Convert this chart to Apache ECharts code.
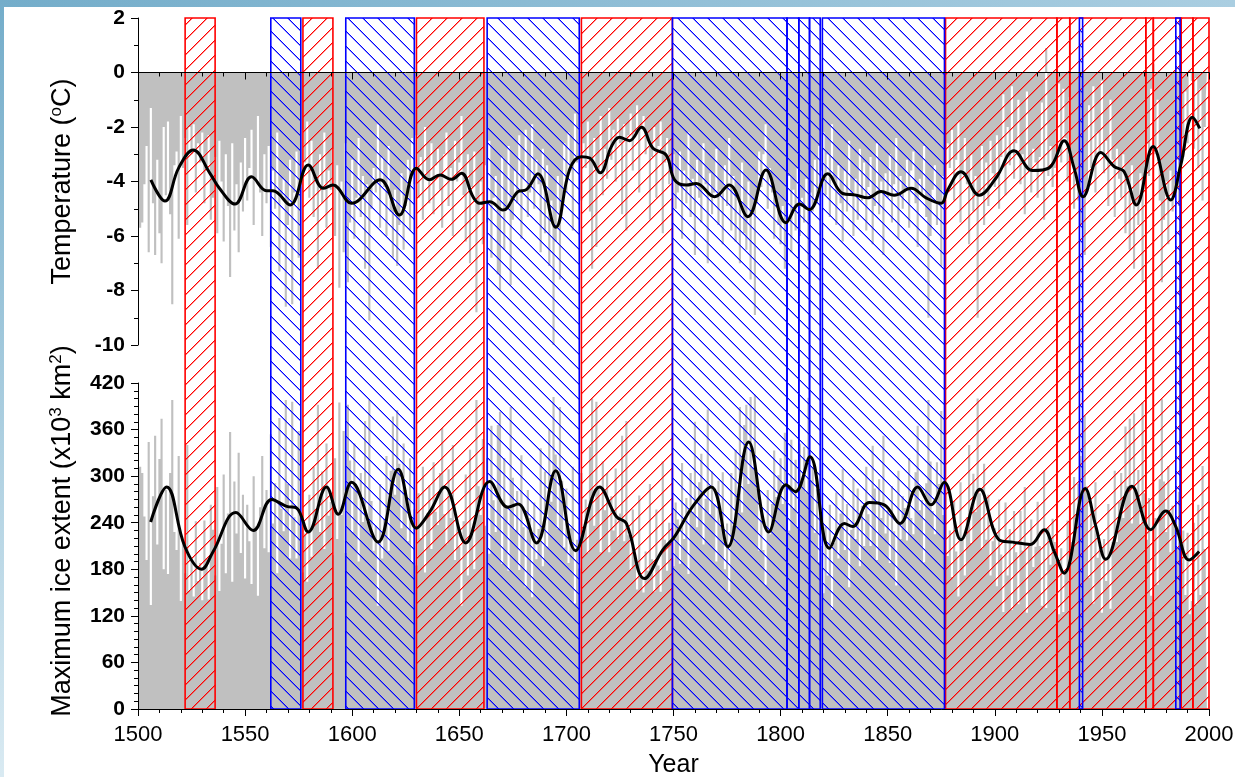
<!DOCTYPE html>
<html>
<head>
<meta charset="utf-8">
<title>Temperature and maximum ice extent, 1500-2000</title>
<script src="https://cdn.jsdelivr.net/npm/echarts@6/dist/echarts.min.js"></script>
<style>
  html, body { margin: 0; padding: 0; background: #fff; }
  #frameTop { position: absolute; left: 0; top: 0; width: 1235px; height: 7px;
    background: linear-gradient(to right, #74adca, #aacee1); }
  #frameLeft { position: absolute; left: 0; top: 0; width: 4px; height: 777px;
    background: linear-gradient(to bottom, #74adca, #d9eaf2); }
  #chart { position: absolute; left: 0; top: 0; width: 1235px; height: 777px; }
</style>
</head>
<body>
<div id="frameTop"></div>
<div id="frameLeft"></div>
<div id="chart"></div>
<script>
// ---- data -----------------------------------------------------------------
const firstYear = 1500;

// annual temperature (°C), 1500-1999
const tempValues = [
  -3.9,-5.7,-5.5,-4.1,-2.7,-6.6,-1.3,-4.8,-6.7,-3.2,
  -5.9,-7.0,-2.0,-4.5,-1.8,-5.2,-8.5,-3.4,-2.9,-6.1,
  -1.6,-3.5,-2.4,-5.6,-2.0,-3.0,-1.9,-4.4,-2.6,-3.3,
  -2.2,-4.8,-3.6,-2.3,-5.4,-4.6,-3.1,-5.9,-2.5,-4.0,
  -6.2,-3.0,-4.9,-7.5,-2.6,-5.8,-4.1,-6.6,-3.3,-5.1,
  -2.4,-4.7,-3.5,-2.1,-5.6,-3.9,-1.6,-4.4,-6.0,-3.0,
  -4.8,-2.7,-6.4,-3.6,-5.0,-2.2,-7.3,-4.5,-3.9,-8.6,
  -5.6,-3.2,-8.5,-4.4,-2.9,-6.8,-4.0,-2.1,-3.3,-1.8,
  -4.6,-2.5,-5.3,-3.9,-7.2,-3.0,-4.8,-2.2,-5.7,-3.6,
  -4.3,-2.8,-6.0,-3.4,-7.9,-4.0,-6.6,-2.6,-7.7,-5.5,
  -3.2,-6.1,-4.6,-2.4,-5.3,-3.8,-7.2,-4.1,-9.1,-5.0,
  -3.5,-4.4,-1.9,-5.7,-3.1,-4.2,-6.0,-2.7,-5.1,-6.8,
  -4.3,-7.1,-5.6,-3.7,-6.5,-4.9,-3.2,-5.8,-2.4,-4.1,
  -2.3,-4.6,-3.1,-5.4,-2.0,-3.9,-4.8,-2.6,-5.2,-3.4,
  -2.8,-4.3,-5.7,-3.0,-2.2,-4.9,-3.5,-6.0,-2.5,-4.0,
  -3.3,-1.6,-4.5,-6.2,-3.0,-7.0,-4.2,-2.9,-8.8,-5.1,
  -4.0,-6.3,-3.4,-5.5,-2.5,-6.8,-4.6,-3.8,-7.4,-8.0,
  -3.1,-6.5,-4.9,-2.7,-7.8,-5.4,-3.6,-4.8,-2.3,-6.1,
  -3.9,-2.1,-5.3,-4.4,-1.9,-5.0,-3.2,-4.1,-6.6,-2.8,
  -5.9,-3.4,-7.1,-4.7,-10.0,-6.2,-3.8,-7.6,-5.0,-2.6,
  -4.4,-2.2,-3.6,-5.8,-1.5,-3.3,-2.0,-4.7,-2.6,-3.5,
  -1.8,-5.1,-7.2,-2.4,-6.4,-3.7,-1.6,-4.5,-2.8,-3.9,
  -1.3,-3.2,-2.1,-4.0,-1.7,-2.6,-5.2,-1.9,-5.8,-2.3,
  -1.5,-3.6,-2.2,-1.2,-4.4,-2.0,-1.6,-3.0,-2.5,-5.4,
  -3.1,-2.0,-4.6,-2.7,-1.8,-5.9,-3.3,-2.4,-4.1,-3.6,
  -3.0,-5.0,-4.4,-2.9,-6.1,-3.6,-4.8,-2.2,-5.3,-3.9,
  -6.7,-3.2,-4.6,-5.5,-2.6,-4.1,-7.0,-3.7,-5.2,-4.4,
  -2.8,-5.6,-4.3,-6.3,-3.4,-4.9,-2.4,-5.8,-3.8,-6.2,
  -4.5,-7.0,-3.3,-5.9,-6.5,-4.0,-7.6,-5.1,-8.9,-4.8,
  -2.9,-4.2,-3.0,-1.9,-5.0,-3.5,-4.4,-6.1,-4.7,-5.6,
  -6.3,-4.9,-7.2,-5.4,-3.8,-6.6,-4.3,-5.8,-3.5,-6.0,
  -4.6,-5.5,-3.9,-6.9,-4.4,-5.1,-3.2,-4.8,-2.7,-3.6,
  -2.2,-4.5,-3.0,-5.3,-1.9,-4.0,-5.6,-3.4,-4.8,-6.2,
  -3.6,-5.1,-2.5,-4.4,-6.0,-3.9,-5.4,-2.8,-4.7,-3.3,
  -5.8,-4.2,-3.1,-6.3,-4.9,-2.6,-5.2,-4.0,-6.7,-3.7,
  -4.6,-3.0,-5.5,-4.1,-2.4,-6.1,-3.8,-5.0,-4.4,-3.2,
  -5.7,-3.6,-2.9,-4.8,-6.4,-3.9,-4.5,-2.7,-5.3,-9.0,
  -6.0,-4.3,-3.4,-5.6,-4.8,-7.1,-3.8,-4.6,-2.6,-3.5,
  -2.1,-4.7,-3.2,-1.8,-5.5,-3.6,-2.4,-4.1,-6.3,-3.0,
  -5.1,-3.8,-9.0,-4.4,-2.7,-5.6,-3.3,-4.9,-2.5,-3.7,
  -4.2,-2.3,-5.0,-3.1,-0.8,-4.5,-2.0,-3.4,-0.5,-3.9,
  -2.6,-1.0,-4.1,-3.0,-5.2,-0.7,-3.6,-4.4,-2.8,-3.3,
  -4.6,-3.1,-1.1,-5.4,0.9,-3.8,-2.7,-4.2,-3.5,-0.8,
  -0.4,-3.3,-0.6,-2.4,-4.0,-0.9,-3.1,-5.0,-3.6,-4.7,
  -5.6,-3.9,-6.7,-4.3,-1.2,-3.5,-0.5,-4.4,-2.2,-3.0,
  -0.3,-3.7,-2.5,-4.9,-1.0,-3.2,-5.3,-2.8,-3.9,-4.6,
  -3.0,-5.9,-4.1,-6.5,-3.4,-7.2,-4.8,-5.6,-3.7,-7.7,
  -4.3,-2.6,-3.8,-0.6,0.3,-3.0,-1.0,-4.7,-7.7,-5.4,
  -4.0,-6.3,-3.6,-5.1,-4.4,-3.2,-4.9,-2.4,-3.1,-0.7,
  -2.6,0.1,-0.3,-2.8,-0.2,-3.5,-0.6,-4.7,-2.0,-0.9
];

// annual maximum ice extent (x10^3 km^2), 1500-1999
const iceValues = [
  240,312,304,248,192,344,134,274,352,212,
  322,374,180,282,174,304,398,228,205,326,
  139,217,175,340,152,191,145,242,165,188,
  140,243,194,141,263,231,172,286,152,213,
  302,175,252,357,164,293,226,330,201,276,
  168,263,216,161,300,235,146,260,326,207,
  282,202,354,239,291,175,375,258,229,398,
  290,194,396,247,194,358,250,176,226,164,
  276,196,312,258,392,228,306,206,342,249,
  267,198,323,219,395,250,358,201,392,320,
  228,342,287,190,304,241,371,241,398,268,
  204,236,133,290,194,245,326,204,307,377,
  276,385,316,233,342,282,216,323,188,257,
  185,278,220,312,176,252,288,206,318,254,
  237,304,362,251,212,309,246,340,192,244,
  209,133,242,302,172,334,226,180,398,287,
  250,348,236,323,200,365,269,228,366,383,
  187,323,262,178,389,298,230,281,179,327,
  234,157,282,246,144,266,193,232,336,184,
  306,209,360,267,402,328,232,389,294,208,
  284,188,233,312,136,218,181,304,230,270,
  201,338,400,236,396,287,202,319,256,304,
  202,274,230,310,219,252,352,216,371,224,
  179,257,198,154,275,172,150,203,178,290,
  193,151,257,185,151,319,218,178,240,212,
  184,266,244,187,317,219,272,174,304,254,
  370,234,292,329,212,271,386,251,306,264,
  190,294,236,305,180,239,151,304,236,334,
  277,389,253,366,392,290,402,311,405,284,
  204,253,205,160,282,225,264,333,273,301,
  323,264,356,288,230,347,258,321,234,342,
  294,338,279,401,295,311,227,283,189,210,
  149,235,172,263,128,214,279,194,252,309,
  205,264,157,231,297,219,284,184,262,210,
  312,251,210,339,284,192,296,246,352,226,
  256,188,287,229,159,307,219,274,259,217,
  323,246,225,305,365,256,269,189,291,398,
  319,255,225,318,290,384,250,280,197,230,
  170,268,203,145,292,218,172,247,340,214,
  303,254,400,278,206,316,218,276,172,216,
  233,158,270,199,125,266,172,232,128,255,
  202,135,255,204,286,124,212,244,183,209,
  267,210,133,307,130,234,186,245,215,126,
  122,207,125,174,243,127,215,299,246,290,
  326,260,378,287,169,258,136,292,195,212,
  124,219,165,264,129,215,307,215,267,304,
  246,364,287,374,239,381,278,308,238,395,
  278,218,272,146,125,246,160,296,399,293,
  228,313,202,262,238,206,280,188,230,147,
  227,122,139,240,134,263,147,313,206,164
];

// smoothed temperature curve [year, °C]
const tempCurve = [
  [1506,-3.94],[1512.6,-4.72],[1519,-3.5],[1525.8,-2.84],[1533.6,-3.7],[1538,-4.25],
  [1545.3,-4.83],[1553,-3.83],[1560,-4.34],[1563,-4.34],[1571,-4.86],[1579.5,-3.39],
  [1586.5,-4.25],[1591,-4.13],[1599.7,-4.8],[1613,-3.94],[1622,-5.23],[1630,-3.51],
  [1636,-3.94],[1641,-3.76],[1646.3,-3.92],[1651,-3.7],[1656.4,-4.56],[1659.5,-4.8],
  [1664.2,-4.74],[1670.4,-5.05],[1677.4,-4.37],[1681.3,-4.3],[1686.7,-3.72],[1695,-5.68],
  [1701.5,-3.56],[1707,-3.09],[1710.9,-3.14],[1715.8,-3.68],[1721,-2.72],[1724.8,-2.38],
  [1729.5,-2.5],[1735,-2.01],[1740.4,-2.78],[1746.6,-3.03],[1750.5,-3.94],[1756,-4.13],
  [1760.6,-4.07],[1769.2,-4.56],[1776,-4.13],[1784.7,-5.29],[1793.2,-3.58],[1802.5,-5.51],
  [1808.8,-4.83],[1813.4,-5.03],[1822,-3.72],[1829,-4.44],[1835.2,-4.5],[1840.6,-4.6],
  [1846.9,-4.37],[1853,-4.5],[1860.9,-4.25],[1867.9,-4.6],[1874.9,-4.8],[1878,-4.31],
  [1884.2,-3.64],[1892.7,-4.5],[1900.5,-3.88],[1909,-2.87],[1917.6,-3.6],[1925.4,-3.5],
  [1932.4,-2.5],[1937,-3.5],[1941.2,-4.56],[1949.5,-2.94],[1955.7,-3.45],[1960.4,-3.64],
  [1966.1,-4.86],[1973.9,-2.72],[1982.1,-4.68],[1986.8,-3.4],[1992.3,-1.64],[1995.7,-2.05]
];

// smoothed ice-extent curve [year, x10^3 km^2]
const iceCurve = [
  [1505.9,241],[1513.4,286],[1521.9,209],[1529.7,180],[1535.1,203],[1545.7,253],
  [1553.8,230],[1562.4,270],[1569.4,261],[1574,259],[1579.5,228],[1588,286],
  [1593.5,251],[1599.7,292],[1612.1,215],[1621.5,309],[1630,233],[1636.2,254],
  [1643.2,286],[1653,214],[1664.2,293],[1672.7,260],[1677.4,264],[1686,214],
  [1695,307],[1704.3,204],[1715.5,286],[1723.3,248],[1728,239],[1736.5,168],
  [1745,205],[1750.5,222],[1759,261],[1767.6,286],[1775.4,209],[1785.1,344],
  [1794.5,228],[1802.5,289],[1806.9,280],[1813.7,325],[1822.8,207],[1829.8,239],
  [1833.6,235],[1841.4,266],[1848.4,263],[1855.7,239],[1864,286],[1870.2,263],
  [1876.4,292],[1884.2,218],[1893,283],[1902,218],[1908.3,215],[1916.5,212],
  [1923,231],[1927.7,203],[1932.4,175],[1942.2,284],[1947.2,235],[1951.8,193],
  [1964,287],[1972.8,231],[1979.8,255],[1984.5,235],[1990.7,192],[1995.4,203]
];

// warm (red) and cold (blue) periods [start, end]
const warmPeriods = [
  [1522,1536],[1577,1591],[1630,1661.5],[1707,1749.5],[1877,1929],[1929,1935],
  [1935,1970.5],[1970.5,1974],[1974,1987],[1987,1992.5],[1992.5,2000]
];
const coldPeriods = [
  [1562,1576],[1597,1629],[1663,1706],[1749.5,1803],[1803,1808.5],[1808.5,1813.5],
  [1813.5,1818.5],[1819.5,1876.5],[1939.5,1941],[1984.5,1986.5]
];

const tempTicks = { min: -10, max: 2, step: 2 };
const iceTicks = { min: 0, max: 420, step: 60 };
const yearTicks = { min: 1500, max: 2000, step: 50 };

// ---- helpers ----------------------------------------------------------------
const FONT = '"Liberation Sans", Arial, Helvetica, sans-serif';
const RED = '#ff0000';
const BLUE = '#0000ff';
const BAR_GREY = '#c0c0c0';

// diagonal hatch tile: dir = 1 for "/", -1 for "\"
function hatchTile(color, dir) {
  const n = 15;
  const c = document.createElement('canvas');
  c.width = n; c.height = n;
  const g = c.getContext('2d');
  g.fillStyle = color;
  for (let i = 0; i < n; i++) {
    const y = dir > 0 ? n - 1 - i : i;
    g.globalAlpha = 1;
    g.fillRect(i, y, 1, 1);
    g.globalAlpha = 0.45;
    g.fillRect(i, (y + 1) % n, 1, 1);
  }
  return c;
}
const redTile = hatchTile(RED, 1);
const blueTile = hatchTile(BLUE, -1);

function periodRenderer(color, tile) {
  return function (params, api) {
    const p0 = api.coord([api.value(0), 1]);
    const p1 = api.coord([api.value(1), 0]);
    return {
      type: 'rect',
      shape: { x: p0[0], y: p0[1], width: p1[0] - p0[0], height: p1[1] - p0[1] },
      style: { fill: { image: tile, repeat: 'repeat' }, stroke: color, lineWidth: 1.6 }
    };
  };
}

const tempBars = tempValues.map((v, i) => [firstYear + i, v]);
const iceBars = iceValues.map((v, i) => [firstYear + i, v]);

// annual values as contiguous one-year columns: a stepped area filled down to zero
function annualColumns(name, axisIndex, data) {
  return {
    name, type: 'line', xAxisIndex: axisIndex, yAxisIndex: axisIndex,
    data, step: 'middle', symbol: 'none', showSymbol: false, silent: true, z: 1,
    lineStyle: { width: 0, color: BAR_GREY },
    areaStyle: { color: BAR_GREY, opacity: 1, origin: 0 }
  };
}

const blackText = { color: '#000', fontFamily: FONT };

function yearAxis(gridIndex, withLabels) {
  return {
    type: 'value', gridIndex,
    min: yearTicks.min, max: yearTicks.max, interval: yearTicks.step,
    z: 4,
    axisLine: { show: true, onZero: true, lineStyle: { color: '#000', width: 1 } },
    axisTick: { show: true, inside: false, length: 7, lineStyle: { color: '#000', width: 1 } },
    minorTick: { show: true, splitNumber: 5, length: 4, lineStyle: { color: '#000', width: 1 } },
    splitLine: { show: false }, minorSplitLine: { show: false },
    axisLabel: withLabels
      ? Object.assign({ show: true, fontSize: 22, margin: 15, hideOverlap: false,
          formatter: (v) => String(v) }, blackText)
      : { show: false }
  };
}

function valueAxis(gridIndex, ticks, minorSplit, name, nameStyle) {
  return {
    type: 'value', gridIndex,
    min: ticks.min, max: ticks.max, interval: ticks.step,
    z: 4,
    axisLine: { show: true, onZero: false, lineStyle: { color: '#000', width: 1 } },
    axisTick: { show: true, inside: false, length: 7, lineStyle: { color: '#000', width: 1 } },
    minorTick: { show: true, splitNumber: minorSplit, length: 4, lineStyle: { color: '#000', width: 1 } },
    splitLine: { show: false }, minorSplitLine: { show: false },
    axisLabel: Object.assign({ fontSize: 21, fontWeight: 'bold', margin: 13, hideOverlap: false,
      formatter: (v) => String(v) }, blackText),
    name: name,
    nameLocation: 'middle',
    nameRotate: 90,
    nameGap: 60,
    nameMoveOverlap: false,
    nameTextStyle: nameStyle
  };
}

const supRich = { sup: { fontSize: 17, lineHeight: 17, verticalAlign: 'top', color: '#000', fontFamily: FONT } };

const option = {
  animation: false,
  backgroundColor: 'transparent',
  textStyle: { fontFamily: FONT },
  grid: [
    { left: 138, top: 18, width: 1071, height: 327, containLabel: false, outerBoundsMode: 'none' },
    { left: 138, top: 383, width: 1071, height: 326, containLabel: false, outerBoundsMode: 'none' },
    { left: 138, top: 18, width: 1071, height: 691, containLabel: false, outerBoundsMode: 'none' }
  ],
  xAxis: [
    yearAxis(0, false),
    Object.assign(yearAxis(1, true), {
      name: 'Year', nameLocation: 'middle', nameGap: 44, nameMoveOverlap: false,
      nameTextStyle: Object.assign({ fontSize: 25 }, blackText)
    }),
    { type: 'value', gridIndex: 2, min: yearTicks.min, max: yearTicks.max, show: false }
  ],
  yAxis: [
    valueAxis(0, tempTicks, 2, 'Temperature ({sup|o}C)',
      Object.assign({ fontSize: 27, lineHeight: 30, rich: supRich }, blackText)),
    valueAxis(1, iceTicks, 6, 'Maximum ice extent (x10{sup|3} km{sup|2})',
      Object.assign({ fontSize: 27, lineHeight: 30, rich: supRich, padding: [0, 0, 0, 30] }, blackText)),
    { type: 'value', gridIndex: 2, min: 0, max: 1, show: false }
  ],
  series: [
    annualColumns('Temperature', 0, tempBars),
    annualColumns('Ice extent', 1, iceBars),
    {
      name: 'Warm periods', type: 'custom', xAxisIndex: 2, yAxisIndex: 2,
      data: warmPeriods, encode: { x: [0, 1] }, silent: true, z: 3,
      renderItem: periodRenderer(RED, redTile)
    },
    {
      name: 'Cold periods', type: 'custom', xAxisIndex: 2, yAxisIndex: 2,
      data: coldPeriods, encode: { x: [0, 1] }, silent: true, z: 3,
      renderItem: periodRenderer(BLUE, blueTile)
    },
    {
      name: 'Temperature (smoothed)', type: 'line', xAxisIndex: 0, yAxisIndex: 0,
      data: tempCurve, smooth: 0.4, symbol: 'none', silent: true, z: 6,
      lineStyle: { color: '#000', width: 3 }
    },
    {
      name: 'Ice extent (smoothed)', type: 'line', xAxisIndex: 1, yAxisIndex: 1,
      data: iceCurve, smooth: 0.4, symbol: 'none', silent: true, z: 6,
      lineStyle: { color: '#000', width: 3 }
    }
  ]
};

const chart = echarts.init(document.getElementById('chart'), null, { renderer: 'canvas' });
chart.setOption(option);
</script>
</body>
</html>
